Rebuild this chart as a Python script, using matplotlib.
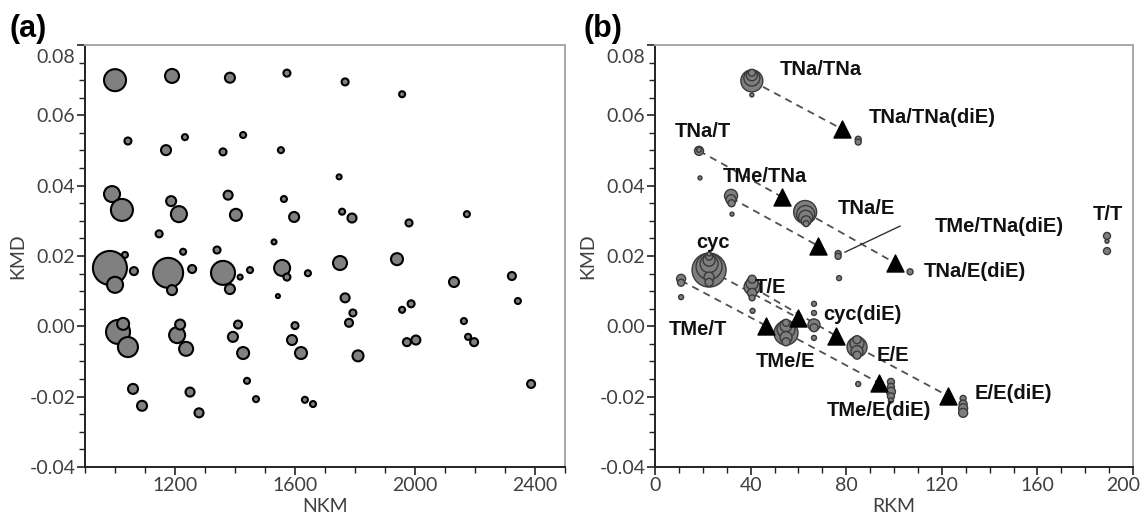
import numpy as np
import matplotlib
matplotlib.use('Agg')
import matplotlib.pyplot as plt
from matplotlib.ticker import MultipleLocator
from matplotlib.transforms import ScaledTranslation

plt.rcParams['font.family'] = ['Lato', 'DejaVu Sans']

# ---- panel (a): NKM vs KMD, bubble radius ~ abundance
a_nkm = [1000, 1043, 990, 1023, 1147, 1033, 983, 1000, 1063, 1010, 1027, 1043, 1060, 1090,
         1190, 1170, 1233, 1187, 1213, 1227, 1177, 1190, 1257, 1207, 1217, 1237, 1250, 1280,
         1383, 1427, 1360, 1377, 1403, 1340, 1360, 1383, 1417, 1450, 1393, 1410, 1427, 1440, 1470,
         1573, 1553, 1563, 1597, 1530, 1557, 1573, 1543, 1600, 1590, 1620, 1643, 1633, 1660,
         1767, 1957, 1747, 1757, 1790, 1980, 2173, 1750, 1940, 2130, 2323, 2343,
         1767, 1793, 1780, 1810, 1957, 1987, 1973, 2003, 2163, 2177, 2197, 2387]
a_kmd = [0.0700, 0.0527, 0.0376, 0.0331, 0.0263, 0.0203, 0.0166, 0.0118, 0.0157, -0.0016, 0.0007, -0.0059, -0.0178, -0.0226,
         0.0712, 0.0501, 0.0538, 0.0356, 0.0319, 0.0212, 0.0152, 0.0103, 0.0163, -0.0025, 0.0005, -0.0064, -0.0187, -0.0246,
         0.0707, 0.0544, 0.0496, 0.0373, 0.0317, 0.0217, 0.0152, 0.0106, 0.0140, 0.0160, -0.0030, 0.0005, -0.0076, -0.0155, -0.0207,
         0.0720, 0.0501, 0.0362, 0.0311, 0.0240, 0.0166, 0.0140, 0.0086, 0.0002, -0.0039, -0.0076, 0.0151, -0.0209, -0.0221,
         0.0695, 0.0660, 0.0425, 0.0326, 0.0308, 0.0294, 0.0319, 0.0180, 0.0191, 0.0126, 0.0143, 0.0072,
         0.0081, 0.0038, 0.0010, -0.0084, 0.0047, 0.0064, -0.0045, -0.0039, 0.0015, -0.0030, -0.0045, -0.0164]
a_abund = [11, 3.5, 8, 11, 3.5, 3, 17, 8, 4, 12, 6, 10, 5, 5,
           7, 5, 3, 5, 8, 3, 15, 5, 4, 8, 5, 7, 4.5, 4.5,
           5, 3, 3.5, 4.5, 6, 3.5, 12, 5, 2.5, 3, 5, 4, 6, 3, 3,
           3.5, 3, 3, 5, 2.5, 8, 3.5, 2, 3.5, 5, 6, 3, 3, 3,
           3.5, 3, 2.5, 3, 4.5, 3.5, 3, 7, 6, 5, 4, 3,
           4.5, 3.5, 4, 5.5, 3, 3.5, 4, 4.5, 3, 3, 4, 4]

# ---- panel (b): RKM vs KMD
b_rkm = [40.5, 40.5, 40.5, 40.5, 40.5,
         85.0, 85.0,
         18.4, 18.4, 18.8,
         31.8, 31.8, 32.0, 32.2,
         76.6, 76.6, 77.0,
         62.8, 63.0, 63.0, 63.2, 63.2,
         106.7,
         189.1, 189.1, 189.1,
         22.6, 22.6, 22.6, 22.6, 22.6, 22.6, 22.6, 22.6,
         10.9, 10.9, 10.9,
         40.6, 40.6, 40.6, 40.6, 40.6, 40.8,
         54.8, 54.8, 54.8, 54.8, 54.8, 54.8,
         66.5, 66.5, 66.5, 66.5, 66.5,
         84.5, 84.5, 84.5, 84.5, 84.5,
         85.0, 98.7, 98.7, 98.7, 98.7, 98.7,
         128.9, 128.9, 128.9, 128.9]
b_kmd = [0.0698, 0.0706, 0.0714, 0.0721, 0.0658,
         0.0532, 0.0524,
         0.0499, 0.0502, 0.0422,
         0.0371, 0.0360, 0.0350, 0.0319,
         0.0207, 0.0199, 0.0137,
         0.0325, 0.0318, 0.0310, 0.0300, 0.0292,
         0.0155,
         0.0257, 0.0242, 0.0214,
         0.0160, 0.0170, 0.0178, 0.0188, 0.0198, 0.0206, 0.0140, 0.0125,
         0.0135, 0.0124, 0.0083,
         0.0112, 0.0122, 0.0134, 0.0095, 0.0081, 0.0044,
         -0.0019, -0.0008, 0.0002, 0.0010, -0.0032, -0.0044,
         0.0004, -0.0004, 0.0064, 0.0038, -0.0033,
         -0.0059, -0.0048, -0.0038, -0.0072, -0.0082,
         -0.0164, -0.0158, -0.0172, -0.0186, -0.0199, -0.0211,
         -0.0205, -0.0221, -0.0233, -0.0246]
b_abund = [11, 8, 5.5, 3.5, 2,
           3, 3,
           4.5, 2.5, 2,
           6.5, 5, 3.5, 2,
           3, 3, 2.5,
           11.5, 9, 7, 5, 3,
           3,
           3.5, 2, 3.5,
           17, 13, 9, 6, 3.5, 2, 5, 4,
           4.5, 3.5, 2.5,
           8, 6, 4, 4.5, 3, 2.5,
           12, 9, 6, 3.5, 6, 4,
           6, 4, 2.5, 2.5, 2.5,
           10, 7, 4, 6, 4,
           2.5, 3.5, 3.5, 4.5, 3.5, 2.5,
           3, 4, 4.5, 4.5]

# dashed links: parent series -> diester (triangle)
link_from_rkm = [40.5, 18.4, 31.8, 62.8, 22.6, 40.6, 10.9, 54.8, 84.5]
link_from_kmd = [0.0698, 0.0499, 0.0365, 0.0325, 0.0160, 0.0112, 0.0130, -0.0019, -0.0059]
tri_rkm = [78.2, 53.1, 68.2, 100.4, 59.8, 75.7, 46.4, 93.7, 122.6]
tri_kmd = [0.0561, 0.0368, 0.0229, 0.0180, 0.0024, -0.0027, 0.0002, -0.0161, -0.0198]

labels = ['TNa/TNa', 'TNa/TNa(diE)', 'TNa/T', 'TMe/TNa', 'TNa/E', 'TMe/TNa(diE)', 'T/T',
          'TNa/E(diE)', 'cyc', 'T/E', 'cyc(diE)', 'TMe/T', 'TMe/E', 'E/E', 'TMe/E(diE)', 'E/E(diE)']
# label anchor positions (text centres, data coords)
label_x = [69.5, 115.9, 20.1, 46.0, 88.3, 143.9, 189.5, 133.9, 24.3, 48.1, 86.6, 18.0, 54.4, 99.6, 93.7, 149.8]
label_y = [0.0729, 0.0595, 0.0553, 0.0425, 0.0334, 0.0285, 0.0317, 0.0157, 0.0237, 0.0109, 0.0035,
           -0.0010, -0.0101, -0.0084, -0.0238, -0.0192]


def r2s(r):
    # radius in px -> scatter area in pt^2 (dpi 100)
    return (2 * np.asarray(r) * 72 / 100) ** 2


def style_axes(ax):
    ax.spines['left'].set_color('#222222')
    ax.spines['bottom'].set_color('#222222')
    ax.spines['top'].set_color('#a8a8a8')
    ax.spines['right'].set_color('#a8a8a8')
    for s in ax.spines.values():
        s.set_linewidth(1.4)
    ax.tick_params(which='major', direction='out', length=6, width=1.2, colors='#222222',
                   labelcolor='#404040', labelsize=14, pad=1)
    ax.tick_params(which='minor', direction='out', length=4, width=1.0, colors='#222222')
    ax.tick_params(top=False, right=False, which='both')
    ax.yaxis.set_major_locator(MultipleLocator(0.02))
    ax.yaxis.set_minor_locator(MultipleLocator(0.005))
    ax.set_ylim(-0.04, 0.08)
    ax.yaxis.set_major_formatter(matplotlib.ticker.FormatStrFormatter('%.2f'))
    ax.set_ylabel('KMD', fontsize=14, color='#404040', labelpad=2)


fig = plt.figure(figsize=(11.46, 5.16), dpi=100)
ax1 = fig.add_axes([0.0742, 0.0950, 0.4188, 0.8178])
ax2 = fig.add_axes([0.5716, 0.0950, 0.4171, 0.8178])

# (a)
ax1.scatter(a_nkm, a_kmd, s=r2s(a_abund), facecolor='#808080', edgecolor='black', linewidth=1.5, zorder=3)
ax1.set_xlim(900, 2500)
ax1.xaxis.set_major_locator(matplotlib.ticker.FixedLocator([1200, 1600, 2000, 2400]))
ax1.xaxis.set_minor_locator(MultipleLocator(100))
style_axes(ax1)
ax1.set_xlabel('NKM', fontsize=14, color='#404040', labelpad=3)

# (b)
for x0, y0, x1, y1 in zip(link_from_rkm, link_from_kmd, tri_rkm, tri_kmd):
    ax2.plot([x0, x1], [y0, y1], ls=(0, (4, 3)), color='#505050', lw=1.3, zorder=1)
ax2.plot([79.5, 102.5], [0.0211, 0.0285], color='#333333', lw=1.0, zorder=1)
ax2.scatter(b_rkm, b_kmd, s=r2s(b_abund), facecolor='#7f7f7f', edgecolor='#3a3a3a', linewidth=1.0, zorder=3)
ax2.scatter(tri_rkm, tri_kmd, marker='^', s=150, color='black', zorder=4)
for t, x, y in zip(labels, label_x, label_y):
    ax2.text(x, y, t, ha='center', va='center', fontsize=14.5, fontweight='bold',
             family=['Liberation Sans', 'DejaVu Sans'], color='#111111', zorder=5)
ax2.set_xlim(0, 200)
ax2.xaxis.set_major_locator(MultipleLocator(40))
ax2.xaxis.set_minor_locator(MultipleLocator(10))
style_axes(ax2)
ax2.set_xlabel('RKM', fontsize=14, color='#404040', labelpad=3)

fig.text(0.008, 0.944, '(a)', fontsize=22, fontweight='bold', family=['Liberation Sans'], va='center')
fig.text(0.509, 0.944, '(b)', fontsize=22, fontweight='bold', family=['Liberation Sans'], va='center')

# nudge edge tick labels like the original: top KMD label sits below its tick,
# last RKM label pulled inside the figure
fig.canvas.draw()
for ax in (ax1, ax2):
    for lab in ax.get_yticklabels():
        if lab.get_text() == '0.08':
            lab.set_transform(lab.get_transform() + ScaledTranslation(0, -0.11, fig.dpi_scale_trans))
for lab in ax2.get_xticklabels():
    if lab.get_text() == '200':
        lab.set_transform(lab.get_transform() + ScaledTranslation(-0.10, 0, fig.dpi_scale_trans))

fig.savefig('out.png', dpi=100)
